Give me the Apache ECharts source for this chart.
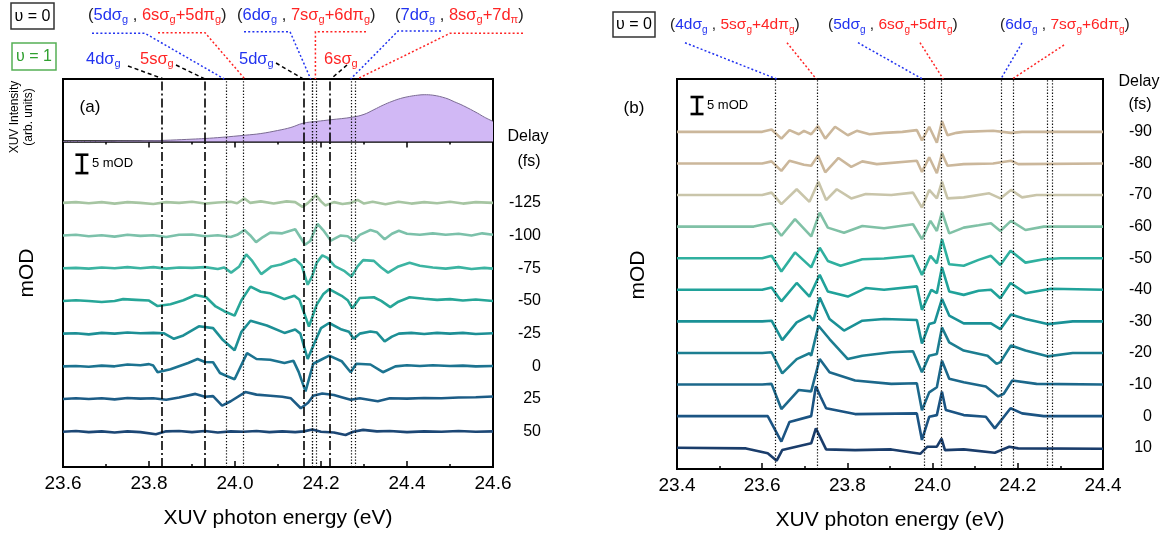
<!DOCTYPE html>
<html>
<head>
<meta charset="utf-8">
<script src="https://cdn.jsdelivr.net/npm/echarts@6/dist/echarts.min.js"></script>
<style>
  html, body { margin: 0; padding: 0; background: #fff; }
  #chart { width: 1172px; height: 537px; }
</style>
</head>
<body>
<div id="chart"></div>
<script>
const FONT = "'Liberation Sans', Arial, Helvetica, sans-serif";
const BLUE = '#2233f0';
const RED = '#ff2424';

// XUV spectrum, relative intensity vs photon energy (eV)
const spectrumA = [
  [23.60, 0], [23.65, 0], [23.70, 0.005], [23.75, 0.01], [23.80, 0.015], [23.85, 0.03],
  [23.90, 0.05], [23.93, 0.064], [23.97, 0.09], [24.024, 0.135], [24.06, 0.17], [24.099, 0.235],
  [24.13, 0.30], [24.158, 0.39], [24.19, 0.43], [24.223, 0.465], [24.273, 0.52], [24.30, 0.58],
  [24.323, 0.68], [24.345, 0.78], [24.365, 0.857], [24.385, 0.92], [24.406, 0.964], [24.425, 0.99],
  [24.44, 1.0], [24.46, 0.99], [24.49, 0.927], [24.51, 0.85], [24.531, 0.765], [24.564, 0.606],
  [24.58, 0.52], [24.60, 0.43]
];

// pump-probe delays (fs), listed top to bottom
const delaysA = ['-125', '-100', '-75', '-50', '-25', '0', '25', '50'];
const delaysB = ['-90', '-80', '-70', '-60', '-50', '-40', '-30', '-20', '-10', '0', '10'];

// panel (a) transient absorption, [photon energy eV, ΔOD mOD]
const trA_m125 = [[23.60,0],[23.63,0.2],[23.66,-0.1],[23.69,0.2],[23.72,-0.2],[23.75,0.2],[23.78,0],[23.81,-0.3],[23.84,0.2],[23.87,0],[23.90,0.3],[23.93,-0.2],[23.96,0.1],[23.99,0.3],[24.005,-0.1],[24.022,1.2],[24.035,0],[24.06,0.4],[24.09,-0.2],[24.12,0.4],[24.14,0.2],[24.157,-1.1],[24.17,0],[24.188,2.1],[24.20,0.4],[24.21,-0.7],[24.23,0.2],[24.25,-0.3],[24.27,0],[24.285,0.8],[24.30,-0.2],[24.32,0.3],[24.35,-0.4],[24.38,0.3],[24.41,-0.2],[24.44,0.2],[24.47,-0.1],[24.50,0.3],[24.53,-0.2],[24.56,0.2],[24.60,0]];
const trA_m100 = [[23.60,0],[23.63,0.2],[23.66,-0.2],[23.69,0.1],[23.72,-0.3],[23.75,0.2],[23.78,-0.1],[23.81,0.1],[23.84,-0.4],[23.87,0.2],[23.90,0.3],[23.93,-0.2],[23.96,0.1],[23.99,-0.4],[24.005,0.2],[24.022,1.5],[24.035,0.1],[24.049,-1.8],[24.065,-0.4],[24.082,0.8],[24.11,0.6],[24.14,1.7],[24.163,-2.5],[24.175,-1.5],[24.192,3.2],[24.205,1.5],[24.223,-1.4],[24.245,0],[24.262,-0.2],[24.276,-1.5],[24.29,0.2],[24.315,1.5],[24.33,1.0],[24.348,-1.0],[24.365,0.5],[24.381,1.3],[24.40,0.5],[24.43,0.2],[24.46,0.6],[24.49,0.2],[24.52,0.5],[24.55,0],[24.575,0.6],[24.60,0.2]];
const trA_m75 = [[23.60,0],[23.63,0.1],[23.66,-0.1],[23.69,0.2],[23.72,0],[23.75,0.3],[23.78,0],[23.81,0.3],[23.84,-0.1],[23.87,0.2],[23.90,0.1],[23.93,0.3],[23.96,-0.2],[23.975,0.2],[23.991,-1.2],[24.01,0.5],[24.026,3.8],[24.04,2.0],[24.061,-1.6],[24.085,0.5],[24.107,1.0],[24.14,2.5],[24.155,0.8],[24.169,-4.5],[24.18,-2.0],[24.19,1.5],[24.203,3.5],[24.215,2.8],[24.232,0.6],[24.255,-0.8],[24.271,-2.3],[24.285,0.5],[24.298,2.2],[24.323,2.0],[24.34,0.2],[24.356,-1.2],[24.38,0.5],[24.406,1.5],[24.43,0.7],[24.46,0.2],[24.49,-0.1],[24.52,0.3],[24.55,-0.2],[24.58,0.1],[24.60,-0.1]];
const trA_m50 = [[23.60,0],[23.63,0.2],[23.66,0],[23.69,-0.3],[23.72,0],[23.74,0.5],[23.77,0.3],[23.80,0.1],[23.82,-1.4],[23.85,-0.9],[23.88,0.2],[23.908,1.6],[23.933,1.0],[23.955,-1.5],[23.975,-2.8],[23.999,-4.0],[24.015,0.2],[24.036,3.9],[24.06,2.5],[24.082,2.1],[24.115,0.5],[24.138,1.4],[24.15,0.3],[24.172,-7.0],[24.19,-1.0],[24.205,1.8],[24.219,3.2],[24.248,1.4],[24.262,0.2],[24.273,-2.0],[24.29,0.8],[24.323,1.0],[24.34,0],[24.361,-1.7],[24.38,-0.2],[24.406,1.0],[24.44,0.6],[24.47,0.3],[24.50,0.5],[24.53,0.1],[24.56,0.4],[24.60,0]];
const trA_m25 = [[23.60,0],[23.63,0.1],[23.66,-0.2],[23.69,0.2],[23.72,0],[23.75,0.3],[23.78,0.1],[23.81,0.2],[23.835,0.1],[23.858,-1.4],[23.88,-0.5],[23.916,2.0],[23.949,1.5],[23.97,-1.5],[23.999,-4.5],[24.015,0.5],[24.036,3.5],[24.074,2.2],[24.115,0.2],[24.14,1.1],[24.152,0],[24.169,-6.9],[24.185,-2.5],[24.20,1.5],[24.219,2.9],[24.248,1.1],[24.265,0.5],[24.276,-1.4],[24.29,0],[24.315,0.6],[24.33,0.3],[24.348,-2.1],[24.365,-0.8],[24.381,0],[24.41,0.2],[24.44,-0.1],[24.47,0.2],[24.50,0],[24.53,0.2],[24.56,-0.1],[24.60,0.1]];
const trA_0 = [[23.60,0],[23.63,0.1],[23.66,-0.1],[23.69,0.2],[23.72,0],[23.75,0.5],[23.78,0.3],[23.80,0.6],[23.81,0.2],[23.82,-1.6],[23.85,-0.8],[23.891,0.9],[23.913,2.0],[23.93,1.2],[23.949,1.1],[23.965,-1.8],[23.982,-2.7],[23.999,-3.5],[24.028,3.6],[24.05,2.0],[24.082,1.8],[24.115,0.9],[24.136,1.5],[24.148,-1.5],[24.164,-6.8],[24.182,0.7],[24.20,1.8],[24.219,2.9],[24.248,1.4],[24.269,-1.6],[24.282,0.7],[24.315,0.5],[24.344,-1.6],[24.373,0],[24.40,0.3],[24.43,0.1],[24.46,0.3],[24.50,0.1],[24.53,0.2],[24.56,0],[24.60,0.1]];
const trA_p25 = [[23.60,0],[23.63,0.2],[23.66,0],[23.69,0.2],[23.72,-0.1],[23.75,0.3],[23.78,0.1],[23.81,0.2],[23.84,-0.2],[23.87,0.4],[23.908,1.4],[23.93,0.6],[23.949,0.8],[23.97,-1.8],[23.99,-0.6],[24.024,1.9],[24.05,1.2],[24.082,0.9],[24.11,0.6],[24.13,0.2],[24.153,-2.5],[24.17,-1.0],[24.182,0.9],[24.203,1.5],[24.23,1.1],[24.248,0.5],[24.269,-0.2],[24.29,0.2],[24.332,-0.6],[24.36,0.2],[24.40,0.1],[24.44,0.3],[24.48,0.2],[24.52,0.4],[24.56,0.5],[24.60,0.7]];
const trA_p50 = [[23.60,0],[23.63,0.2],[23.66,-0.1],[23.69,0.1],[23.72,-0.2],[23.75,0.1],[23.78,-0.1],[23.816,-0.7],[23.84,0.1],[23.87,0.2],[23.90,-0.1],[23.93,0.2],[23.96,-0.2],[23.99,0.1],[24.02,0],[24.05,0.2],[24.08,-0.1],[24.11,0.1],[24.14,-0.1],[24.16,0.1],[24.18,0.6],[24.20,0],[24.23,-0.2],[24.257,-0.9],[24.275,0],[24.298,0.5],[24.33,0.1],[24.36,0.2],[24.40,-0.1],[24.44,0.1],[24.48,0],[24.52,0.2],[24.56,0],[24.60,0.1]];
const tracesA = [trA_m125, trA_m100, trA_m75, trA_m50, trA_m25, trA_0, trA_p25, trA_p50];

// panel (b) transient absorption, [photon energy eV, ΔOD mOD]
const trB_m90 = [[23.40,0],[23.60,0],[23.622,0.7],[23.645,-2.0],[23.664,0.5],[23.686,-0.7],[23.698,0.3],[23.715,-0.7],[23.731,1.7],[23.748,-2.0],[23.771,1.5],[23.801,-1.0],[23.822,0.3],[23.852,-0.7],[23.886,-0.3],[23.929,0],[23.963,0.5],[23.975,-2.5],[23.992,1.5],[24.010,-3.2],[24.022,3.1],[24.035,-1.0],[24.056,-0.3],[24.073,0],[24.142,0.3],[24.184,-0.3],[24.21,0],[24.40,0]];
const trB_m80 = [[23.40,0],[23.60,0],[23.622,0.6],[23.645,-2.2],[23.664,0.8],[23.698,-0.4],[23.715,-0.7],[23.731,2.3],[23.748,-2.6],[23.779,1.6],[23.809,-1.0],[23.835,0.6],[23.869,-0.2],[23.963,0.8],[23.975,-2.5],[23.992,1.8],[24.010,-2.9],[24.022,2.9],[24.035,-0.7],[24.073,-0.2],[24.142,0],[24.184,0.8],[24.201,-0.2],[24.40,0]];
const trB_m70 = [[23.40,0],[23.60,0],[23.622,0.7],[23.645,-2.7],[23.681,1.7],[23.711,-2.0],[23.732,3.9],[23.75,-1.5],[23.775,1.7],[23.809,-1.0],[23.843,0.3],[23.903,0],[23.954,0.7],[23.975,-3.7],[23.992,1.5],[24.010,-1.0],[24.022,3.9],[24.035,-1.0],[24.073,-0.7],[24.133,0.5],[24.159,-1.0],[24.184,1.5],[24.21,-0.7],[24.244,0],[24.40,0]];
const trB_m60 = [[23.40,0],[23.58,0],[23.605,0.7],[23.622,1.0],[23.645,-2.7],[23.677,2.2],[23.715,-2.9],[23.735,4.1],[23.754,-0.3],[23.792,-1.8],[23.835,0.2],[23.886,-0.5],[23.954,0.7],[23.975,-3.7],[23.995,1.7],[24.010,-1.3],[24.022,4.3],[24.039,-2.0],[24.073,-0.3],[24.108,0.4],[24.137,1.0],[24.159,-1.3],[24.184,1.7],[24.218,-1.0],[24.261,0],[24.40,0]];
const trB_m50 = [[23.40,0],[23.60,0],[23.622,0.7],[23.645,-3.9],[23.677,1.7],[23.715,-2.7],[23.735,3.1],[23.754,-0.8],[23.784,-2.2],[23.835,-0.3],[23.886,-0.1],[23.954,0.7],[23.975,-4.9],[23.995,0.7],[24.010,-1.5],[24.022,5.6],[24.039,-1.8],[24.073,-2.2],[24.108,-0.5],[24.137,0.7],[24.159,-2.0],[24.183,2.2],[24.218,-1.3],[24.261,-0.3],[24.30,0],[24.40,0]];
const trB_m40 = [[23.40,0],[23.60,0],[23.622,0.7],[23.645,-3.4],[23.681,2.0],[23.711,-2.0],[23.735,4.4],[23.754,-0.5],[23.801,-2.0],[23.843,0.5],[23.886,0],[23.963,1.0],[23.975,-5.9],[23.997,0],[24.010,-1.0],[24.022,6.6],[24.039,-0.5],[24.073,-1.5],[24.108,-0.3],[24.137,0],[24.159,-2.5],[24.183,2.0],[24.218,-1.0],[24.278,0.3],[24.40,0]];
const trB_m30 = [[23.40,0],[23.60,0],[23.622,0.2],[23.647,-5.5],[23.681,-0.3],[23.711,1.7],[23.72,0.2],[23.735,7.0],[23.758,0.7],[23.792,-2.7],[23.835,0.2],[23.886,0.7],[23.963,0.4],[23.975,-6.5],[23.992,-0.8],[24.005,-0.3],[24.022,6.6],[24.039,1.7],[24.073,-0.6],[24.137,-0.6],[24.159,-2.3],[24.184,2.0],[24.218,0.7],[24.27,-0.8],[24.329,0],[24.40,0]];
const trB_m20 = [[23.40,0],[23.60,0],[23.622,0.2],[23.647,-6.0],[23.681,-1.8],[23.711,-0.1],[23.715,-0.8],[23.732,8.0],[23.758,4.1],[23.801,-1.8],[23.835,-0.8],[23.903,0.2],[23.954,0.5],[23.975,-5.7],[23.992,-0.8],[24.010,-0.3],[24.022,7.5],[24.039,3.1],[24.073,0.7],[24.129,-0.8],[24.150,-3.2],[24.159,-2.7],[24.184,2.2],[24.218,0.7],[24.27,-1.0],[24.329,0],[24.40,0]];
const trB_m10 = [[23.40,0],[23.60,0],[23.622,0.2],[23.645,-7.2],[23.686,-1.6],[23.715,-2.0],[23.735,7.5],[23.758,3.6],[23.818,1.2],[23.903,0.2],[23.963,0.4],[23.975,-7.6],[23.992,-2.3],[24.010,-0.8],[24.022,7.0],[24.039,1.7],[24.073,0.7],[24.125,-0.6],[24.154,-3.5],[24.167,-2.7],[24.187,1.2],[24.244,0.2],[24.40,0]];
const trB_0 = [[23.40,0],[23.613,0],[23.645,-7.5],[23.664,-1.7],[23.715,0],[23.726,8.8],[23.737,5.7],[23.75,2.3],[23.818,0.6],[23.963,0.8],[23.975,-7.0],[23.992,-0.2],[24.010,0.3],[24.022,7.2],[24.031,1.8],[24.073,0.3],[24.125,-0.2],[24.146,-3.6],[24.183,2.3],[24.21,0.8],[24.261,0],[24.40,0]];
const trB_p10 = [[23.40,0],[23.562,-0.2],[23.613,-1.6],[23.634,-3.8],[23.647,-0.7],[23.715,1.3],[23.726,5.7],[23.75,-0.5],[23.818,-0.7],[23.903,-0.5],[23.971,-1.8],[23.988,0.3],[24.010,0.3],[24.021,2.7],[24.029,-0.7],[24.073,-0.5],[24.146,-1.5],[24.18,0.3],[24.201,-0.2],[24.40,-0.3]];
const tracesB = [trB_m90, trB_m80, trB_m70, trB_m60, trB_m50, trB_m40, trB_m30, trB_m20, trB_m10, trB_0, trB_p10];

// resonance positions (eV)
const linesA_v0 = [23.975, 24.023, 24.176, 24.181, 24.187, 24.269, 24.284];
const linesA_v1 = [23.834, 23.930, 24.159, 24.223];
const linesB_v0 = [23.634, 23.727, 23.976, 24.025, 24.160, 24.187, 24.270, 24.283];

// scale bar height (mOD)
const scaleBarMOD = 5;

// ---------------------------------------------------------------- drawing
const colorsA = ['#a6c5a2', '#7cc1aa', '#3cb4a2', '#27a698', '#1d8f95', '#1c7390', '#1c5c86', '#1c4775'];
const colorsB = ['#cbb79b', '#cbb79b', '#c9c5aa', '#80c1a6', '#2fb09f', '#20a29a', '#1a9196', '#1c7e91', '#1c688b', '#1b5483', '#1a3d6b'];

const baseA0 = 9.6, stepA = 8.9;     // trace offsets, panel (a)
const baseB0 = 6.26, stepB = 9.29;   // trace offsets, panel (b)

const chart = echarts.init(document.getElementById('chart'), null, { renderer: 'canvas' });

const tick = { color: '#000', width: 1.5 };
function energyAxis(grid, min, max, showLabels, inside) {
  return {
    type: 'value', gridIndex: grid, min, max, interval: 0.2,
    axisLine: { show: false, onZero: false },
    axisTick: { show: true, inside, length: 6, lineStyle: tick },
    minorTick: { show: true, splitNumber: 2, length: 3, lineStyle: tick },
    splitLine: { show: false }, minorSplitLine: { show: false },
    axisLabel: showLabels ? {
      show: true, formatter: v => v.toFixed(1), fontSize: 19, color: '#000',
      fontFamily: FONT, margin: 7
    } : { show: false },
    name: showLabels ? 'XUV photon energy (eV)' : '',
    nameLocation: 'middle', nameGap: 41,
    nameTextStyle: { fontSize: 21, color: '#000', fontFamily: FONT }
  };
}
function hiddenY(grid, min, max) {
  return { type: 'value', gridIndex: grid, min, max, show: false,
           splitLine: { show: false }, axisLine: { show: false } };
}

const dotted = { color: '#111', width: 1.2, type: [1.3, 1.8] };
const dashDot = { color: '#000', width: 1.6, type: [9, 3, 2, 3] };
function vLines(list, style) {
  return list.map(e => ({ xAxis: e, lineStyle: style }));
}
function markLines(data) {
  return { silent: true, symbol: ['none', 'none'], label: { show: false },
           animation: false, data };
}

function scaleBarItem(params, api) {
  const x = api.value(0), y0 = api.value(1), y1 = api.value(2);
  const b = api.coord([x, y0]), t = api.coord([x, y1]);
  const w = 6.5;
  const st = { stroke: '#000', lineWidth: 2.6 };
  return {
    type: 'group',
    children: [
      { type: 'line', shape: { x1: b[0], y1: b[1], x2: t[0], y2: t[1] }, style: st },
      { type: 'line', shape: { x1: b[0] - w, y1: b[1], x2: b[0] + w, y2: b[1] }, style: st },
      { type: 'line', shape: { x1: t[0] - w, y1: t[1], x2: t[0] + w, y2: t[1] }, style: st },
      { type: 'text', x: b[0] + 10, y: (b[1] + t[1]) / 2,
        style: { text: scaleBarMOD + ' mOD', fontSize: 13, fontFamily: FONT, fill: '#000',
                 align: 'left', verticalAlign: 'middle' } }
    ]
  };
}

const series = [];
series.push({
  type: 'line', xAxisIndex: 0, yAxisIndex: 0, data: spectrumA, smooth: 0.4,
  symbol: 'none', lineStyle: { color: '#7a6a92', width: 1 },
  areaStyle: { color: '#d1b8f5', opacity: 1 }, z: 2,
  markLine: markLines(vLines(linesA_v0, dotted).concat(vLines(linesA_v1, dashDot)))
});
tracesA.forEach((tr, i) => {
  const base = baseA0 + (tracesA.length - 1 - i) * stepA;
  series.push({
    type: 'line', xAxisIndex: 1, yAxisIndex: 1, symbol: 'none',
    data: tr.map(p => [p[0], p[1] + base]),
    lineStyle: { color: colorsA[i], width: 2.6 }, z: 3,
    markLine: i === 0 ? markLines(vLines(linesA_v0, dotted).concat(vLines(linesA_v1, dashDot))) : undefined
  });
});
tracesB.forEach((tr, i) => {
  const base = baseB0 + (tracesB.length - 1 - i) * stepB;
  series.push({
    type: 'line', xAxisIndex: 2, yAxisIndex: 2, symbol: 'none',
    data: tr.map(p => [p[0], p[1] + base]),
    lineStyle: { color: colorsB[i], width: 2.6 }, z: 3,
    markLine: i === 0 ? markLines(vLines(linesB_v0, dotted)) : undefined
  });
});
series.push({ type: 'custom', xAxisIndex: 1, yAxisIndex: 1, renderItem: scaleBarItem,
              data: [[23.644, 80.0, 80.0 + scaleBarMOD]], z: 5, silent: true });
series.push({ type: 'custom', xAxisIndex: 2, yAxisIndex: 2, renderItem: scaleBarItem,
              data: [[23.447, 104.4, 104.4 + scaleBarMOD]], z: 5, silent: true });

const frame = { show: true, borderColor: '#000', borderWidth: 2, backgroundColor: 'transparent' };
chart.setOption({
  animation: false,
  backgroundColor: '#fff',
  textStyle: { fontFamily: FONT },
  grid: [
    Object.assign({ left: 63, top: 79, width: 430, height: 62.5 }, frame),
    Object.assign({ left: 63, top: 141.5, width: 430, height: 325.5 }, frame),
    Object.assign({ left: 677, top: 79, width: 426, height: 390 }, frame)
  ],
  xAxis: [
    energyAxis(0, 23.6, 24.6, false, false),
    energyAxis(1, 23.6, 24.6, true, true),
    energyAxis(2, 23.4, 24.4, true, true)
  ],
  yAxis: [hiddenY(0, 0, 1.336), hiddenY(1, 0, 88.6), hiddenY(2, 0, 114.7)],
  series
});

// ---------------------------------------------------------------- annotations
const xA = e => chart.convertToPixel({ xAxisIndex: 0 }, e);
const xB = e => chart.convertToPixel({ xAxisIndex: 2 }, e);
const frameTop = chart.convertToPixel({ yAxisIndex: 0 }, 1.336);

function poly(points, color, dash) {
  return { type: 'polyline', silent: true, z: 10, shape: { points },
           style: { stroke: color, fill: 'none', lineWidth: 1.5, lineDash: dash } };
}
function txt(x, y, text, opt) {
  return { type: 'text', x, y, silent: true, z: 10, rotation: opt.rotation || 0,
           style: Object.assign({ text, fontFamily: FONT, fill: '#000', fontSize: 16,
                                  align: 'left', verticalAlign: 'middle' }, opt.style || {}) };
}
function box(x, y, w, h, color) {
  return { type: 'rect', silent: true, z: 10, shape: { x, y, width: w, height: h },
           style: { stroke: color, fill: 'none', lineWidth: 1.5 } };
}
const DOT = [2, 2.2];
const DASH = [4, 3];

function richStyles(size) {
  const sub = Math.round(size * 0.66);
  return {
    k: { fontSize: size, fill: '#222', lineHeight: 20, fontFamily: FONT },
    b: { fontSize: size, fill: BLUE, lineHeight: 20, fontFamily: FONT },
    r: { fontSize: size, fill: RED, lineHeight: 20, fontFamily: FONT },
    bs: { fontSize: sub, fill: BLUE, lineHeight: 11, verticalAlign: 'bottom', fontFamily: FONT },
    rs: { fontSize: sub, fill: RED, lineHeight: 11, verticalAlign: 'bottom', fontFamily: FONT }
  };
}
const rt = parts => parts.map(p => '{' + p[0] + '|' + p[1] + '}').join('');
function pairLabel(n, m, last) {
  // (ndσg , msσg+(n)dπg)
  const tail = last ? [['r', '+' + n + 'd'], ['rs', 'π']] : [['r', '+' + n + 'dπ'], ['rs', 'g']];
  return rt([['k', '('], ['b', n + 'dσ'], ['bs', 'g'], ['k', ' , '], ['r', m + 'sσ'], ['rs', 'g']]
    .concat(tail).concat([['k', ')']]));
}
function richTxt(x, y, text, size) {
  return { type: 'text', x, y, silent: true, z: 10,
           style: { text, rich: richStyles(size), align: 'left', verticalAlign: 'middle', fontFamily: FONT } };
}

const g = [];
// panel (a) state labels and leaders
g.push(box(11, 3, 43, 26, '#333'), txt(32.5, 16.5, 'υ = 0', { style: { align: 'center' } }));
g.push(box(12, 43, 44, 27, '#55b055'), txt(34, 57, 'υ = 1', { style: { align: 'center', fill: '#2fa02f' } }));
g.push(richTxt(88, 15, pairLabel(5, 6, false), 16.5));
g.push(richTxt(237, 15, pairLabel(6, 7, false), 16.5));
g.push(richTxt(395, 15, pairLabel(7, 8, true), 16.5));
g.push(richTxt(86, 59, rt([['b', '4dσ'], ['bs', 'g']]), 16.5));
g.push(richTxt(140, 59, rt([['r', '5sσ'], ['rs', 'g']]), 16.5));
g.push(richTxt(239, 59, rt([['b', '5dσ'], ['bs', 'g']]), 16.5));
g.push(richTxt(324, 59, rt([['r', '6sσ'], ['rs', 'g']]), 16.5));

g.push(poly([[92, 33.3], [145, 33.3], [xA(linesA_v0[0]), frameTop]], BLUE, DOT));
g.push(poly([[158, 32.7], [205, 32.7], [xA(linesA_v0[1]), frameTop]], RED, DOT));
g.push(poly([[244, 31.7], [290, 31.7], [xA(linesA_v0[2]), frameTop]], BLUE, DOT));
g.push(poly([[366, 31.7], [xA(linesA_v0[4]), 31.7], [xA(linesA_v0[4]), frameTop]], RED, DOT));
g.push(poly([[441, 31], [398, 31], [xA(linesA_v0[5]), frameTop]], BLUE, DOT));
g.push(poly([[523, 33.3], [450, 33.3], [xA(linesA_v0[6]), frameTop]], RED, DOT));
g.push(poly([[128, 66], [xA(linesA_v1[0]), frameTop]], '#000', DASH));
g.push(poly([[176, 65], [xA(linesA_v1[1]), frameTop]], '#000', DASH));
g.push(poly([[276, 63], [xA(linesA_v1[2]), frameTop]], '#000', DASH));
g.push(poly([[347, 65], [xA(linesA_v1[3]), frameTop]], '#000', DASH));

// panel (b) state labels and leaders
g.push(box(613, 12, 42, 25, '#333'), txt(634, 24.5, 'υ = 0', { style: { align: 'center' } }));
g.push(richTxt(670, 25, pairLabel(4, 5, false), 15.5));
g.push(richTxt(828, 25, pairLabel(5, 6, false), 15.5));
g.push(richTxt(1000, 25, pairLabel(6, 7, false), 15.5));
g.push(poly([[685, 42.7], [xB(linesB_v0[0]), frameTop]], BLUE, DOT));
g.push(poly([[787, 42.7], [xB(linesB_v0[1]), frameTop]], RED, DOT));
g.push(poly([[858, 42.7], [xB(linesB_v0[2]), frameTop]], BLUE, DOT));
g.push(poly([[920, 42.7], [xB(linesB_v0[3]), frameTop]], RED, DOT));
g.push(poly([[1022, 43], [xB(linesB_v0[4]), frameTop]], BLUE, DOT));
g.push(poly([[1064, 45], [xB(linesB_v0[5]), frameTop]], RED, DOT));

// panel tags, axis titles
g.push(txt(90, 107, '(a)', { style: { align: 'center', fontSize: 17 } }));
g.push(txt(634, 108, '(b)', { style: { align: 'center', fontSize: 17 } }));
g.push(txt(15, 117, 'XUV Intensity', { rotation: Math.PI / 2, style: { align: 'center', fontSize: 12 } }));
g.push(txt(29, 117, '(arb. units)', { rotation: Math.PI / 2, style: { align: 'center', fontSize: 12 } }));
g.push(txt(27, 273, 'mOD', { rotation: Math.PI / 2, style: { align: 'center', fontSize: 21 } }));
g.push(txt(638, 275, 'mOD', { rotation: Math.PI / 2, style: { align: 'center', fontSize: 21 } }));

// delay column headers and labels
g.push(txt(528, 137, 'Delay', { style: { align: 'center', fontSize: 16 } }));
g.push(txt(529, 162, '(fs)', { style: { align: 'center', fontSize: 16 } }));
g.push(txt(1139, 82, 'Delay', { style: { align: 'center', fontSize: 16 } }));
g.push(txt(1140, 105, '(fs)', { style: { align: 'center', fontSize: 16 } }));
delaysA.forEach((d, i) => {
  const base = baseA0 + (delaysA.length - 1 - i) * stepA;
  const p = chart.convertToPixel({ gridIndex: 1 }, [24.6, base]);
  g.push(txt(p[0] + 48, p[1], d, { style: { align: 'right', fontSize: 16 } }));
});
delaysB.forEach((d, i) => {
  const base = baseB0 + (delaysB.length - 1 - i) * stepB;
  const p = chart.convertToPixel({ gridIndex: 2 }, [24.4, base]);
  g.push(txt(p[0] + 49, p[1], d, { style: { align: 'right', fontSize: 16 } }));
});

chart.setOption({ graphic: g });
</script>
</body>
</html>
